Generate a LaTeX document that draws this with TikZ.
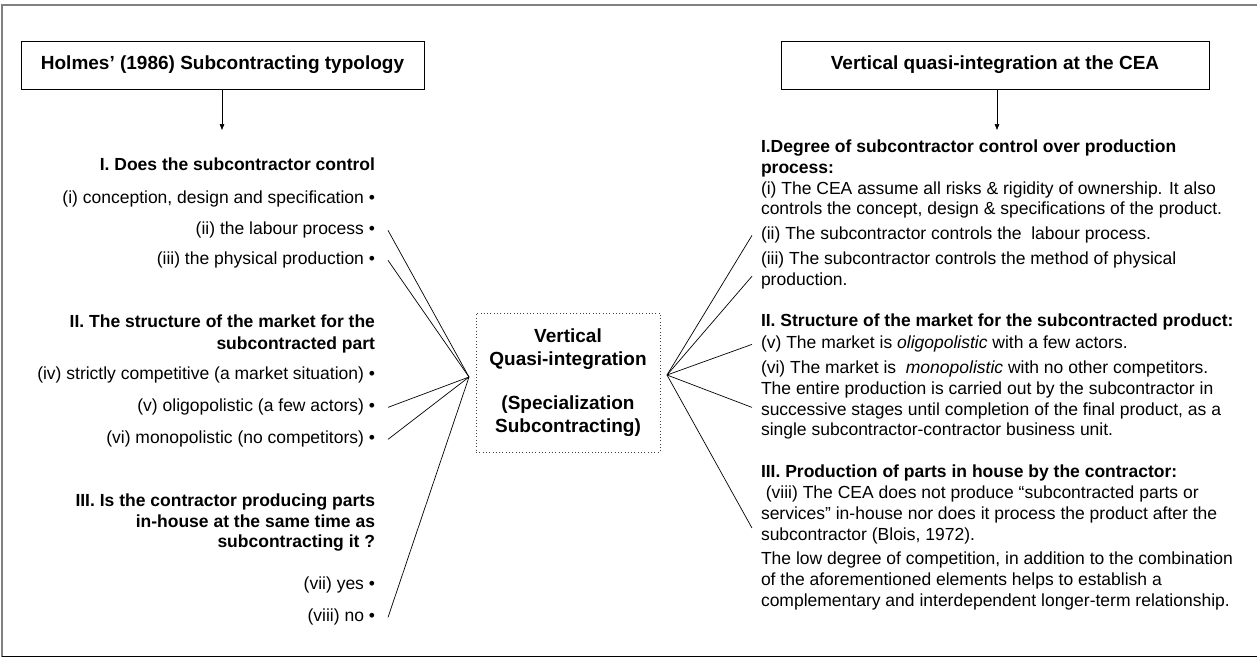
\documentclass[tikz,border=0pt]{standalone}
\usepackage{fontspec}
\setmainfont{Liberation Sans}
\usetikzlibrary{arrows.meta}

\begin{document}
\begin{tikzpicture}[x=1pt,y=-1pt,
	titlebox/.style={draw,line width=0.9pt,minimum width=#1,minimum height=48pt,inner sep=0,font=\fontsize{19}{21.5}\selectfont\bfseries},
	leftitem/.style={anchor=north east,align=right,inner sep=0,outer xsep=13pt,font=\fontsize{17.5}{20.7}\selectfont},
	rightitem/.style={anchor=north west,align=left,inner sep=0,outer xsep=9pt,font=\fontsize{17.5}{20.7}\selectfont},
	link/.style={line width=0.7pt},
	pointer/.style={line width=0.7pt,-{Triangle[length=6pt,width=4.5pt]}}]
	\useasboundingbox (0,0) rectangle (1257,657);
	% frame
	\draw[gray,line width=1.3pt] (2,657) -- (2,5) -- (1257,5);
	\draw[line width=1pt] (2,656) -- (1257,656);
	% titles
	\node[titlebox=403pt] (titleL) at (222.5,65) {Holmes’ (1986) Subcontracting typology};
	\node[titlebox=428pt] (titleR) at (995,65) {Vertical quasi-integration at the CEA};
	\coordinate (arrL) at (222,130);
	\coordinate (arrR) at (997,130);
	\draw[pointer] (titleL.south -| arrL) -- (arrL);
	\draw[pointer] (titleR.south -| arrR) -- (arrR);
	% centre
	\node[draw=black!75,dash pattern=on 0.9pt off 2.4pt,minimum width=184pt,minimum height=139pt,align=center,font=\fontsize{19}{22.5}\selectfont\bfseries] (core) at (568,382.5) {Vertical\\Quasi-integration\\[22pt](Specialization\\Subcontracting)};
	\coordinate (hubL) at (469,377);
	\coordinate (hubR) at (667,375);
	% left side
	\node[leftitem] (LI) at (388,158) {\bfseries I. Does the subcontractor control};
	\node[leftitem] (Li) at (388,191) {(i) conception, design and specification •};
	\node[leftitem] (Lii) at (388,222) {(ii) the labour process •};
	\node[leftitem] (Liii) at (388,252) {(iii) the physical production •};
	\node[leftitem,font=\fontsize{17.5}{22}\selectfont\bfseries] (LII) at (388,315) {II. The structure of the market for the\\subcontracted part};
	\node[leftitem] (Liv) at (388,367) {(iv) strictly competitive (a market situation) •};
	\node[leftitem] (Lv) at (388,399) {(v) oligopolistic (a few actors) •};
	\node[leftitem] (Lvi) at (388,431) {(vi) monopolistic (no competitors) •};
	\node[leftitem,font=\fontsize{17.5}{20.2}\selectfont\bfseries] (LIII) at (388,494) {III. Is the contractor producing parts\\in-house at the same time as\\subcontracting it ?};
	\node[leftitem] (Lvii) at (388,577) {(vii) yes •};
	\node[leftitem] (Lviii) at (388,609) {(viii) no •};
	\foreach \item in {Lii,Liii,Lv,Lvi,Lviii}
		\draw[link] (\item.east) -- (hubL);
	% right side
	\node[rightitem] (RI) at (752,140) {\bfseries I.Degree of subcontractor control over production\\\bfseries process:\\(i) The CEA assume all risks \& rigidity of ownership. It also\\controls the concept, design \& specifications of the product.};
	\node[rightitem] (Rii) at (752,227) {(ii) The subcontractor controls the \ labour process.};
	\node[rightitem] (Riii) at (752,252) {(iii) The subcontractor controls the method of physical\\production.};
	\node[rightitem] (RII) at (752,314) {\bfseries II. Structure of the market for the subcontracted product:};
	\node[rightitem] (Rv) at (752,336) {(v) The market is \textit{oligopolistic} with a few actors.};
	\node[rightitem] (Rvi) at (752,361) {(vi) The market is \ \textit{monopolistic} with no other competitors.\\The entire production is carried out by the subcontractor in\\successive stages until completion of the final product, as a\\single subcontractor-contractor business unit.};
	\node[rightitem] (RIII) at (752,465) {\bfseries III. Production of parts in house by the contractor:};
	\node[rightitem] (Rviii) at (752,486) {\ (viii) The CEA does not produce “subcontracted parts or\\services” in-house nor does it process the product after the\\subcontractor (Blois, 1972).};
	\node[rightitem] (Rlow) at (752,552) {The low degree of competition, in addition to the combination\\of the aforementioned elements helps to establish a\\complementary and interdependent longer-term relationship.};
	\draw[link] (hubR) -- (Rii.west);
	\draw[link] (hubR) -- ([yshift=-5.5pt]Riii.west);
	\draw[link] (hubR) -- (Rv.west);
	\draw[link] (hubR) -- ([yshift=-7pt]Rvi.west);
	\draw[link] (hubR) -- ([yshift=-13pt]Rviii.west);
\end{tikzpicture}
\end{document}
